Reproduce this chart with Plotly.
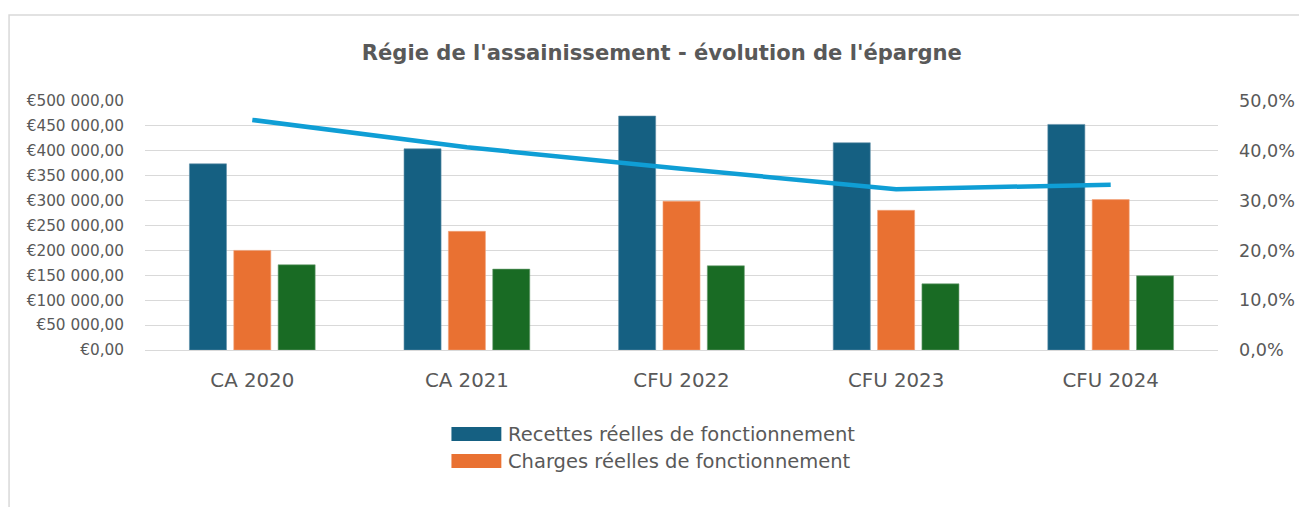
import plotly.graph_objects as go

categories = ["CA 2020", "CA 2021", "CFU 2022", "CFU 2023", "CFU 2024"]
recettes = [373800, 404000, 469800, 416100, 453000]
charges = [200000, 238300, 298700, 280500, 302000]
epargne = [171100, 162400, 169100, 132900, 149000]
taux = [0.462, 0.407, 0.364, 0.323, 0.332]

name_rec = "Recettes réelles de fonctionnement"
name_cha = "Charges réelles de fonctionnement"

C_BLUE = "#156082"
C_ORANGE = "#E97132"
C_GREEN = "#196B24"
C_LINE = "#0F9ED5"
GRAY = "#595959"
FONT = "DejaVu Sans"

# the page body has an 8px margin: figure is sized to fit the 1307x507 window
W, H = 1299, 499

fig = go.Figure()
fig.add_trace(go.Bar(x=categories, y=recettes, name=name_rec, marker_color=C_BLUE,
                     marker_line=dict(color="#5f8fa8", width=0.6), showlegend=False))
fig.add_trace(go.Bar(x=categories, y=charges, name=name_cha, marker_color=C_ORANGE,
                     marker_line=dict(color="#f2a37a", width=0.6), showlegend=False))
fig.add_trace(go.Bar(x=categories, y=epargne, name="Épargne brute", marker_color=C_GREEN,
                     marker_line=dict(color="#6f9f76", width=0.6), showlegend=False))
fig.add_trace(go.Scatter(x=categories, y=taux, name="Taux d'épargne", mode="lines",
                         line=dict(color=C_LINE, width=4.5), yaxis="y2", showlegend=False))

fig.update_layout(
    width=W, height=H,
    margin=dict(l=137, r=87, t=93, b=157),
    paper_bgcolor="white", plot_bgcolor="white",
    separators=", ",
    barmode="group", bargap=0.38, bargroupgap=0.165,
    font=dict(family=FONT, color=GRAY),
    title=dict(text="<b>Régie de l'assainissement - évolution de l'épargne</b>",
               x=661 / W - 0.0055, xanchor="center", y=1 - 45 / H, yanchor="middle",
               font=dict(size=21.1, color=GRAY, family=FONT)),
    xaxis=dict(showgrid=False, showline=False, ticks="", tickfont=dict(size=19.8, color=GRAY),
               ticklabelstandoff=16),
    yaxis=dict(range=[0, 500000], dtick=50000, tickprefix="€", tickformat=",.2f",
               showgrid=True, gridcolor="#d9d9d9", gridwidth=1, zeroline=True,
               zerolinecolor="#d9d9d9", zerolinewidth=1, showline=False,
               tickfont=dict(size=15.3, color=GRAY), ticklabelstandoff=20),
    yaxis2=dict(range=[0, 0.5], dtick=0.1, tickformat=".1%", overlaying="y", side="right",
                showgrid=False, zeroline=False, showline=False,
                tickfont=dict(size=17.6, color=GRAY), ticklabelstandoff=20),
)

# chart border
fig.add_shape(type="rect", xref="paper", yref="paper", x0=-136.2 / 1075, x1=1.3, y0=-1.2, y1=1.345,
              line=dict(color="#d9d9d9", width=1.5), fillcolor="rgba(0,0,0,0)", layer="below")

# custom legend (Excel style wide swatches)
legend_items = [(name_rec, C_BLUE, -0.3092, -0.3655), (name_cha, C_ORANGE, -0.4177, -0.4739)]
for name, col, ytop, ybot in legend_items:
    fig.add_shape(type="rect", xref="paper", yref="paper", x0=0.2856, x1=0.3321, y0=ybot, y1=ytop,
                  fillcolor=col, line=dict(width=0))
    fig.add_annotation(xref="paper", yref="paper", x=0.3367, y=(ytop + ybot) / 2,
                       xanchor="left", yanchor="middle", text=name, showarrow=False,
                       font=dict(size=19.5, color=GRAY, family=FONT))

fig.write_html("out.html")
